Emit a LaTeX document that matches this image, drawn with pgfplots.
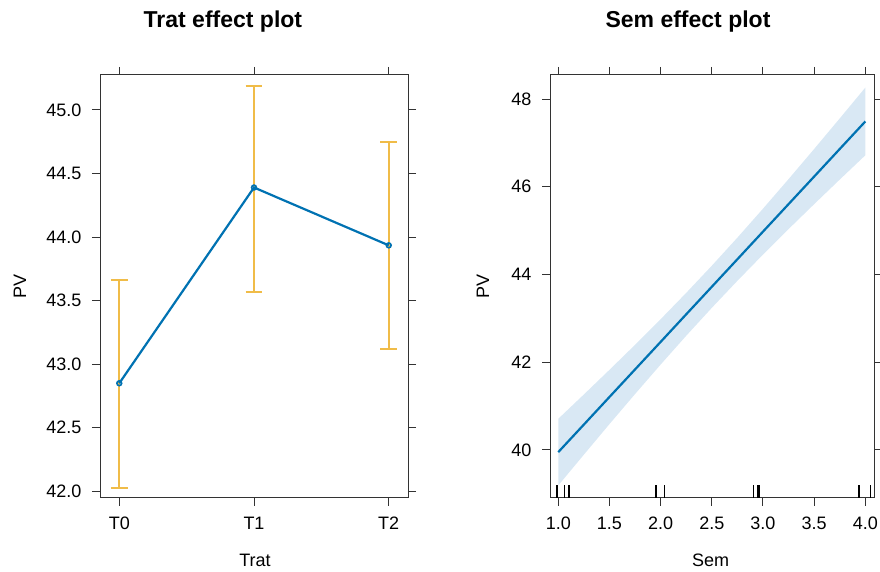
\documentclass[border=0pt]{standalone}
\usepackage{pgfplots}
\pgfplotsset{compat=1.18}
\usepackage{fontspec}
\setmainfont{Liberation Sans}
\definecolor{fr}{HTML}{333333}
\definecolor{lineblue}{RGB}{0,114,178}
\definecolor{bandblue}{RGB}{217,232,244}
\definecolor{ciorange}{RGB}{240,188,72}
\pgfplotsset{
  effstyle/.style={
    scale only axis,
    anchor=south west,
    font=\fontsize{18bp}{21bp}\selectfont,
    axis line style={fr, line width=1bp},
    tick style={fr, line width=1bp},
    tick align=outside,
    tick pos=both,
    major tick length=8bp,
    unbounded coords=jump,
    /pgf/number format/assume math mode=true,
    xticklabel style={yshift=-8bp},
    yticklabel style={xshift=-7bp},
    title style={font=\fontsize{23bp}{27bp}\selectfont\bfseries, anchor=base},
    xlabel style={anchor=base},
    ylabel style={anchor=center, rotate=0},
  }
}
\begin{document}
\begin{tikzpicture}
\path[use as bounding box] (0,0) rectangle (880bp,572bp);
% ---------------- left panel ----------------
\begin{axis}[effstyle,
  at={(100bp,74.3bp)}, width=308bp, height=422.7bp,
  xmin=-0.143, xmax=2.143, ymin=41.95, ymax=45.275,
  xtick={0,1,2}, xticklabels={T0,T1,T2},
  ytick={42,42.5,43,43.5,44,44.5,45},
  yticklabel style={/pgf/number format/fixed, /pgf/number format/fixed zerofill, /pgf/number format/precision=1},
  title={Trat effect plot},
  title style={at={(axis description cs:0.399,1.0987)}},
  xlabel={Trat},
  xlabel style={at={(axis description cs:0.503,-0.1632)}},
  ylabel={PV},
  ylabel style={at={(axis description cs:-0.2597,0.5)}},
]
% confidence bars (lower cap, bar, upper cap)
\addplot[ciorange, line width=2bp, mark=none] coordinates {
  (-0.062,42.03) (0.062,42.03) (0,nan)
  (0,42.03) (0,43.66) (0,nan)
  (-0.062,43.66) (0.062,43.66) (0,nan)
  (0.938,43.57) (1.062,43.57) (1,nan)
  (1,43.57) (1,45.19) (1,nan)
  (0.938,45.19) (1.062,45.19) (1,nan)
  (1.938,43.12) (2.062,43.12) (2,nan)
  (2,43.12) (2,44.75) (2,nan)
  (1.938,44.75) (2.062,44.75)
};
\addplot[lineblue, line width=2.2bp, mark=o, mark size=2.4bp, mark options={line width=1.6bp}]
  coordinates {(0,42.85) (1,44.39) (2,43.935)};
\end{axis}
% ---------------- right panel ----------------
\begin{axis}[effstyle,
  at={(550bp,74.3bp)}, width=324bp, height=422.7bp,
  xmin=0.919, xmax=4.085, ymin=38.91, ymax=48.55,
  xtick={1,1.5,2,2.5,3,3.5,4},
  xticklabel style={/pgf/number format/fixed, /pgf/number format/fixed zerofill, /pgf/number format/precision=1},
  ytick={40,42,44,46,48},
  title={Sem effect plot},
  title style={at={(axis description cs:0.426,1.0987)}},
  xlabel={Sem},
  xlabel style={at={(axis description cs:0.496,-0.1632)}},
  ylabel={PV},
  ylabel style={at={(axis description cs:-0.2068,0.5)}},
]
\addplot[fill=bandblue, draw=none] coordinates {
  (1.00,40.710) (1.25,41.264) (1.50,41.826) (1.75,42.396) (2.00,42.980)
  (2.25,43.581) (2.50,44.200) (2.75,44.840) (3.00,45.500) (3.25,46.175)
  (3.50,46.862) (3.75,47.559) (4.00,48.262)
  (4.00,46.718) (3.75,46.165) (3.50,45.604) (3.25,45.036) (3.00,44.454)
  (2.75,43.856) (2.50,43.240) (2.25,42.603) (2.00,41.946) (1.75,41.274)
  (1.50,40.589) (1.25,39.892) (1.00,39.190)
} -- cycle;
\addplot[lineblue, line width=2.2bp] coordinates {
  (1.00,39.950) (1.25,40.578) (1.50,41.207) (1.75,41.835) (2.00,42.463)
  (2.25,43.092) (2.50,43.720) (2.75,44.348) (3.00,44.977) (3.25,45.605)
  (3.50,46.233) (3.75,46.862) (4.00,47.490)
};
% rug
\addplot[black, line width=1.6bp, mark=none] coordinates {
  (0.99,38.91) (0.99,39.20) (0.99,nan)
  (1.06,38.91) (1.06,39.20) (1.06,nan)
  (1.105,38.91) (1.105,39.20) (1.105,nan)
  (1.955,38.91) (1.955,39.20) (1.955,nan)
  (2.036,38.91) (2.036,39.20) (2.036,nan)
  (2.906,38.91) (2.906,39.20) (2.906,nan)
  (2.945,38.91) (2.945,39.20) (2.945,nan)
  (2.962,38.91) (2.962,39.20) (2.962,nan)
  (3.94,38.91) (3.94,39.20) (3.94,nan)
  (4.05,38.91) (4.05,39.20)
};
\end{axis}
\end{tikzpicture}
\end{document}
